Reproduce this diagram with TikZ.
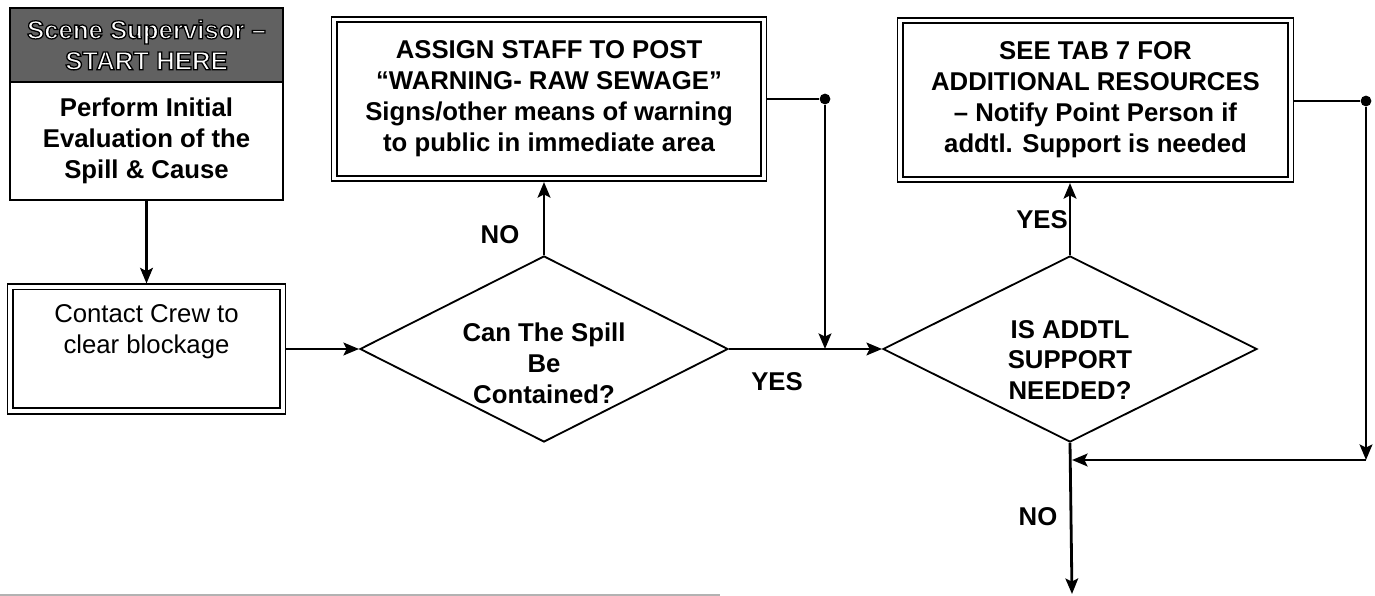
\documentclass[tikz,border=0pt]{standalone}
\usepackage{fontspec}
\setmainfont{Liberation Sans}
\usetikzlibrary{shapes.geometric,arrows.meta}

% white letters with a black stroked outline (PDF text render mode 2)
\newcommand{\hollowtext}[1]{\special{pdf:literal direct 0 G 2 Tr 0.9 w}#1\special{pdf:literal direct 0 Tr}}

\begin{document}
\begin{tikzpicture}[x=0.025cm,y=-0.025cm,
  every node/.style={font=\fontsize{18.3}{22}\selectfont\bfseries, align=center, inner sep=0pt},
  plaintext/.style={font=\fontsize{18.3}{22}\selectfont},
  conn/.style={line width=2pt, -{Stealth[length=11pt,width=9pt,inset=2.2pt]}},
  link/.style={line width=1.3pt},
  headbox/.style={draw, line width=1.2pt, fill=black!62, text=white, minimum width=6.825cm, minimum height=1.85cm},
  bodybox/.style={draw, line width=1.2pt, minimum width=6.825cm, minimum height=2.95cm},
  dblbox/.style={draw, double, double distance=2.8pt, line width=1.1pt, outer sep=2.5pt},
  decision/.style={diamond, draw, line width=1.3pt, inner sep=0pt, minimum height=4.65cm},
  dot/.style={circle, fill=black, minimum size=0.27cm, inner sep=0pt},
  answer/.style={}
]
\useasboundingbox (0,0) rectangle (1375,596);

% start block: shaded header over the first task
\node[headbox] (head) at (146.5,45) {\hollowtext{Scene Supervisor –}\\\hollowtext{START HERE}};
\node[bodybox] (eval) at (146.5,141) {Perform Initial\\Evaluation of the\\Spill \& Cause};

% crew box
\node[dblbox, plaintext, minimum width=6.8cm, minimum height=3.1cm] (crew) at (146.5,349)
  {Contact Crew to\\clear blockage\\\strut};

% first decision
\node[decision, minimum width=9.2cm] (d1) at (544,349) {};
\node (d1q) at (544,363) {Can The Spill\\Be\\Contained?};

% warning box
\node[dblbox, minimum width=10.725cm, minimum height=3.975cm] (warn) at (549,99)
  {ASSIGN STAFF TO POST\\“WARNING- RAW SEWAGE”\\Signs/other means of warning\\to public in immediate area};

% second decision
\node[decision, minimum width=9.35cm] (d2) at (1070,349) {};
\node (d2q) at (1070,360) {IS ADDTL\\SUPPORT\\NEEDED?};

% resources box
\node[dblbox, minimum width=9.75cm, minimum height=3.975cm] (tab7) at (1095.5,100)
  {SEE TAB 7 FOR\\ADDITIONAL RESOURCES\\– Notify Point Person if\\addtl. Support is needed};

% junction dots and corner points
\node[dot] (dot1) at (825,99) {};
\node[dot] (dot2) at (1366,101) {};
\coordinate (j1) at (825,349);
\coordinate (c2) at (1366,460);
\coordinate (j2) at (1072,460);
\coordinate (exit) at (1072,594);

% connectors
\draw[conn] (eval) -- (crew);
\draw[conn] (crew.east) -- (d1.west);
\draw[conn] (d1.north) -- (warn.south -| d1.north);
\draw[conn] (d1.east) -- (d2.west);
\draw[link] (warn.east) -- (dot1);
\draw[conn] (dot1) -- (j1);
\draw[conn] (d2.north) -- (tab7.south -| d2.north);
\draw[link] (tab7.east |- dot2) -- (dot2);
\draw[conn] (dot2) -- (c2);
\draw[conn] (c2) -- (j2);
\draw[conn] (d2.south) -- (exit);

% branch labels
\node[answer] (no1) at (500,235) {NO};
\node[answer] (yes1) at (777,382) {YES};
\node[answer] (yes2) at (1042,220) {YES};
\node[answer] (no2) at (1038,517) {NO};

% faint edge line along the bottom
\draw[black!30, line width=0.8pt] (0,595) -- (720,595);
\end{tikzpicture}
\end{document}
